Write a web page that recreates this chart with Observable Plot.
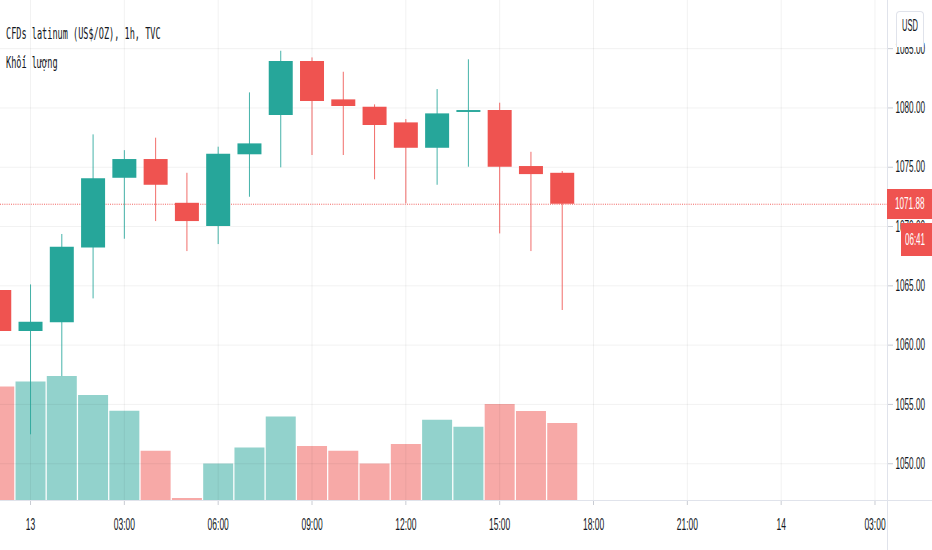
<!DOCTYPE html>
<html>
<head>
<meta charset="utf-8">
<script src="https://cdn.jsdelivr.net/npm/d3@7"></script>
<script src="https://cdn.jsdelivr.net/npm/@observablehq/plot@0.6"></script>
<style>
  html, body { margin: 0; padding: 0; background: #fff; }
  #chart { position: relative; width: 932px; height: 550px; background: #fff; overflow: hidden; }
  #chart svg { position: absolute; left: 0; top: 0; }
  .sq { position: absolute; white-space: nowrap; transform-origin: 0 50%; }
</style>
</head>
<body>
<div id="chart"></div>
<script>
// ---------- data ----------
const hourOffsets = [-1, 0, 1, 2, 3, 4, 5, 6, 7, 8, 9, 10, 11, 12, 13, 14, 15, 16, 17]; // hours from the 13th 00:00
const opens  = [1064.60, 1061.15, 1061.88, 1068.20, 1074.07, 1075.65, 1071.96, 1070.00, 1076.05, 1079.36, 1083.91, 1080.68, 1080.06, 1078.74, 1076.60, 1079.62, 1079.78, 1075.06, 1074.49];
const highs  = [1065.50, 1065.08, 1069.33, 1077.73, 1076.40, 1077.45, 1074.49, 1076.69, 1081.27, 1084.78, 1084.22, 1083.01, 1080.26, 1079.02, 1081.55, 1084.06, 1080.40, 1076.26, 1074.64];
const lows   = [1060.50, 1052.44, 1057.35, 1063.90, 1068.93, 1070.42, 1067.89, 1068.48, 1072.47, 1074.95, 1075.99, 1075.99, 1073.94, 1071.91, 1073.48, 1075.00, 1069.38, 1067.89, 1062.92];
const closes = [1061.15, 1061.93, 1068.25, 1074.02, 1075.65, 1073.48, 1070.42, 1076.10, 1076.97, 1083.91, 1080.54, 1080.12, 1078.52, 1076.60, 1079.50, 1079.78, 1075.00, 1074.38, 1071.88];
const volumes = [1136, 1186, 1240, 1050, 893, 493, 20, 366, 526, 836, 540, 493, 366, 560, 803, 733, 960, 890, 770];

const xTickHours  = [0, 3, 6, 9, 12, 15, 18, 21, 24, 27];
const xTickLabels = ["13", "03:00", "06:00", "09:00", "12:00", "15:00", "18:00", "21:00", "14", "03:00"];
const yTicks      = [1050, 1055, 1060, 1065, 1070, 1075, 1080, 1085];
const yTickLabels = ["1050.00", "1055.00", "1060.00", "1065.00", "1070.00", "1075.00", "1080.00", "1085.00"];

const titleText = "CFDs latinum (US$/OZ), 1h, TVC";
const volumeText = "Khối lượng";
const currencyText = "USD";
const countdownText = "06:41";

// ---------- build ----------
const RED = "#ef5350", GREEN = "#26a69a";
const T0 = Date.UTC(2020, 0, 13, 0);
const H = 3600e3;
const toDate = h => new Date(T0 + h * H);

const candles = hourOffsets.map((h, i) => ({
  t: toDate(h), open: opens[i], high: highs[i], low: lows[i], close: closes[i], vol: volumes[i],
  up: closes[i] >= opens[i]
}));
const up = candles.filter(d => d.up);
const down = candles.filter(d => !d.up);
const xTicks = xTickHours.map(toDate);
const lastClose = closes[closes.length - 1];

const common = {
  width: 932, height: 550,
  marginLeft: 0, marginRight: 45, marginTop: 0, marginBottom: 50,
  x: { type: "utc", domain: [toDate(-0.96), toDate(27.4)], axis: null, label: null },
};

const volumePlot = Plot.plot({
  ...common,
  style: { background: "transparent" },
  y: { domain: [0, 5000], axis: null, label: null },
  marks: [
    Plot.ruleX(up,   { x: "t", y1: 0, y2: "vol", stroke: GREEN, strokeOpacity: 0.5, strokeWidth: 30 }),
    Plot.ruleX(down, { x: "t", y1: 0, y2: "vol", stroke: RED,   strokeOpacity: 0.5, strokeWidth: 30 })
  ]
});

const pricePlot = Plot.plot({
  ...common,
  style: { background: "transparent", fontFamily: "'Liberation Sans', Arial, sans-serif", fontSize: "16px", color: "#131722" },
  y: { domain: [1046.9, 1089.06], axis: null, label: null },
  marks: [
    Plot.gridX(xTicks, { stroke: "#000", strokeOpacity: 0.055 }),
    Plot.gridY(yTicks, { stroke: "#000", strokeOpacity: 0.055 }),
    Plot.axisX(xTicks, {
      anchor: "bottom", label: null, tickSize: 5, tickPadding: 13, stroke: "#c9ccd3", color: "#131722",
      tickFormat: d => xTickLabels[xTicks.findIndex(t => +t === +d)]
    }),
    Plot.axisY(yTicks, {
      anchor: "right", label: null, tickSize: 5, tickPadding: 3, textAnchor: "start", stroke: "#c9ccd3", color: "#131722",
      tickFormat: d => yTickLabels[yTicks.indexOf(d)]
    }),
    Plot.ruleY([lastClose], { stroke: RED, strokeDasharray: "1,1.2", strokeOpacity: 0.9 }),
    Plot.ruleX(up,   { x: "t", y1: "low", y2: "high", stroke: GREEN, strokeWidth: 1, strokeOpacity: 0.85 }),
    Plot.ruleX(down, { x: "t", y1: "low", y2: "high", stroke: RED,   strokeWidth: 1, strokeOpacity: 0.85 }),
    Plot.ruleX(up,   { x: "t", y1: "open", y2: "close", stroke: GREEN, strokeWidth: 24 }),
    Plot.ruleX(down, { x: "t", y1: "open", y2: "close", stroke: RED,   strokeWidth: 24 })
  ]
});

const chart = document.getElementById("chart");
chart.appendChild(volumePlot);
chart.appendChild(pricePlot);

// condensed look of the reference text: horizontal scale about the text anchor
function squeeze(nodes, ratio, anchor) {
  nodes.forEach(t => {
    const b = t.getBBox();
    if (!b.width) return;
    const cx = anchor === "start" ? b.x : b.x + b.width / 2;
    const prev = t.getAttribute("transform") || "";
    t.setAttribute("transform", `${prev} translate(${cx},0) scale(${ratio},1) translate(${-cx},0)`.trim());
  });
}
squeeze(pricePlot.querySelectorAll('g[aria-label="x-axis tick label"] text'), 0.53, "middle");
squeeze(pricePlot.querySelectorAll('g[aria-label="y-axis tick label"] text'), 0.51, "start");

function addDiv(styleText) {
  const d = document.createElement("div");
  d.style.cssText = "position:absolute;" + styleText;
  chart.appendChild(d);
  return d;
}
function addSquished(text, left, top, size, scale, family, color) {
  const s = document.createElement("span");
  s.className = "sq";
  s.textContent = text;
  s.style.cssText += `left:${left}px;top:${top}px;font-size:${size}px;line-height:${size}px;transform:scaleX(${scale});font-family:${family};color:${color};`;
  chart.appendChild(s);
  return s;
}

// pane borders
addDiv("left:887px;top:0;width:1px;height:550px;background:#e0e3eb;");
addDiv("left:0;top:500px;width:932px;height:1px;background:#e0e3eb;");

// legend texts
const mono = "'DejaVu Sans Mono', monospace";
addSquished(titleText, 6, 26, 16, 0.535, mono, "#131722");
addSquished(volumeText, 6, 55, 16, 0.535, mono, "#131722");

// currency badge
addDiv("left:896px;top:11px;width:26px;height:35px;background:#fff;border:1px solid #e0e3eb;border-bottom:none;border-radius:4px 4px 0 0;");
addSquished(currencyText, 902, 18, 16, 0.47, "'Liberation Sans', Arial, sans-serif", "#131722");

// last price label and countdown
const yLast = pricePlot.scale("y").apply(lastClose);
addDiv(`left:887px;top:${yLast - 15}px;width:45px;height:30px;background:${RED};`);
addSquished(lastClose.toFixed(2), 895, yLast - 8, 16, 0.51, "'Liberation Sans', Arial, sans-serif", "#fff");
addDiv(`left:901px;top:${yLast + 19}px;width:31px;height:33px;background:${RED};`);
addSquished(countdownText, 905, yLast + 28, 16, 0.5, "'Liberation Sans', Arial, sans-serif", "#fff");
</script>
</body>
</html>
